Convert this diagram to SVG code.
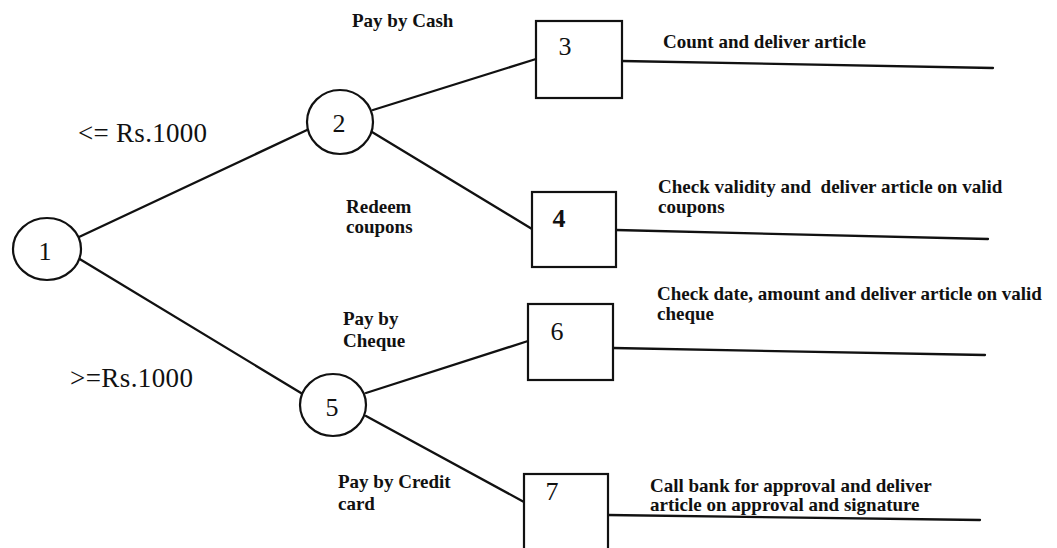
<svg xmlns="http://www.w3.org/2000/svg" width="1057" height="548" viewBox="0 0 1057 548">
<style>
.n{fill:#fff;stroke:#111;stroke-width:2.2}
.c line{stroke:#111;stroke-width:2.3;stroke-linecap:round}
.num{font-family:"Liberation Serif","Times New Roman",serif;font-size:26px;fill:#111;text-anchor:middle}
.lb{font-family:"Liberation Serif","Times New Roman",serif;font-size:19px;font-weight:bold;fill:#111}
.big{font-family:"Liberation Serif","Times New Roman",serif;font-size:27px;fill:#111}
</style>
<rect width="1057" height="548" fill="#fff"/>
<g class="c" id="connectors">
<line x1="79" y1="237" x2="307" y2="130"/>
<line x1="78" y1="258" x2="301" y2="393"/>
<line x1="373" y1="110" x2="536" y2="59"/>
<line x1="372" y1="132" x2="532" y2="229"/>
<line x1="366" y1="393" x2="528" y2="341"/>
<line x1="366" y1="416" x2="524" y2="502"/>
<line x1="622" y1="61" x2="993" y2="68"/>
<line x1="616" y1="230" x2="988" y2="239"/>
<line x1="613" y1="348" x2="985" y2="355"/>
<line x1="608" y1="515" x2="980" y2="520"/>
</g>
<g id="node1"><ellipse class="n" cx="47" cy="249" rx="34" ry="31"/><text class="num" x="45" y="260">1</text></g>
<g id="node2"><ellipse class="n" cx="340" cy="122" rx="33" ry="32"/><text class="num" x="339" y="132">2</text></g>
<g id="node5"><ellipse class="n" cx="333" cy="405" rx="33" ry="31"/><text class="num" x="332" y="416">5</text></g>
<g id="node3"><rect class="n" x="536" y="21" width="86" height="77"/><text class="num" x="565" y="55">3</text></g>
<g id="node4"><rect class="n" x="532" y="192" width="84" height="75"/><text class="num" x="559" y="227" font-weight="bold">4</text></g>
<g id="node6"><rect class="n" x="528" y="304" width="85" height="76"/><text class="num" x="557" y="340">6</text></g>
<g id="node7"><rect class="n" x="524" y="474" width="84" height="78"/><text class="num" x="552" y="500">7</text></g>
<g id="labels">
<text class="big" x="78" y="142" textLength="129">&lt;= Rs.1000</text>
<text class="big" x="70" y="387" textLength="123">&gt;=Rs.1000</text>
<text class="lb" x="352" y="27">Pay by Cash</text>
<text class="lb" x="346" y="213">Redeem</text>
<text class="lb" x="346" y="233">coupons</text>
<text class="lb" x="343" y="325">Pay by</text>
<text class="lb" x="343" y="347">Cheque</text>
<text class="lb" x="338" y="488">Pay by Credit</text>
<text class="lb" x="338" y="510">card</text>
<text class="lb" x="663" y="48">Count and deliver article</text>
<text class="lb" x="658" y="193" xml:space="preserve">Check validity and  deliver article on valid</text>
<text class="lb" x="658" y="213">coupons</text>
<text class="lb" x="657" y="300">Check date, amount and deliver article on valid</text>
<text class="lb" x="657" y="320">cheque</text>
<text class="lb" x="650" y="492">Call bank for approval and deliver</text>
<text class="lb" x="650" y="511">article on approval and signature</text>
</g>
</svg>
